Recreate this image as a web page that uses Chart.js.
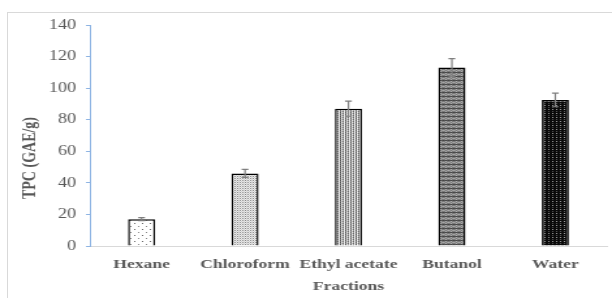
<!DOCTYPE html>
<html>
<head>
<meta charset="utf-8">
<script src="https://cdn.jsdelivr.net/npm/chart.js@4/dist/chart.umd.min.js"></script>
<style>
  html, body { margin: 0; padding: 0; background: #fff; overflow: hidden; width: 612px; height: 298px; }
  #frame { position: absolute; left: 7px; top: 12px; width: 700px; height: 400px; border: 1px solid #d9d9d9; }
  #wrap { position: absolute; left: 0; top: 0; width: 470px; height: 298px; transform: scaleX(1.3021); transform-origin: 0 0; }
</style>
</head>
<body>
<div id="frame"></div>
<div id="wrap"><canvas id="c"></canvas></div>
<script>
const categories = ["Hexane", "Chloroform", "Ethyl acetate", "Butanol", "Water"];
const tpcValues = [17, 46, 87, 113, 92.5];
const tpcErrors = [1, 2.5, 4.8, 5.7, 4.3];
const yTicks = [0, 20, 40, 60, 80, 100, 120, 140];
const yTitle = 'TPC (GAE/g)';
const xTitle = 'Fractions';

function makePattern(w, h, bg, pixels) {
  const c = document.createElement('canvas');
  c.width = w; c.height = h;
  const x = c.getContext('2d');
  x.fillStyle = bg; x.fillRect(0, 0, w, h);
  pixels.forEach(p => { x.fillStyle = p[2]; x.fillRect(p[0], p[1], 1, 1); });
  return x.createPattern(c, 'repeat');
}

const patterns = [
  makePattern(6, 6, '#ffffff', [[1,1,'#666'],[4,4,'#888']]),
  makePattern(2, 2, '#eeeeee', [[0,0,'#8a8a8a'],[1,1,'#d0d0d0']]),
  makePattern(4, 2, '#f0f0f0', [[1,0,'#555'],[1,1,'#777'],[3,0,'#999'],[3,1,'#666'],[2,1,'#ccc']]),
  makePattern(4, 4, '#7a7a7a', [[0,0,'#444'],[1,0,'#555'],[2,0,'#444'],[3,0,'#555'],[0,2,'#a8a8a8'],[2,1,'#b0b0b0'],[2,3,'#b0b0b0'],[1,2,'#999'],[3,2,'#999']]),
  makePattern(3, 4, '#0a0a0a', [[1,1,'#9a9a9a'],[1,3,'#555']])
];

const serif = "'Liberation Serif', 'Times New Roman', serif";
const grey = '#595959';

const errorBars = {
  id: 'errorBars',
  afterDatasetsDraw(chart) {
    const ctx = chart.ctx;
    const meta = chart.getDatasetMeta(0);
    const ys = chart.scales.y;
    ctx.save();
    ctx.strokeStyle = '#7f7f7f';
    ctx.lineWidth = 1.2;
    meta.data.forEach((bar, i) => {
      const x = bar.x;
      const yTop = ys.getPixelForValue(tpcValues[i] + tpcErrors[i]);
      const yBot = ys.getPixelForValue(tpcValues[i] - tpcErrors[i]);
      const cap = 2.6;
      ctx.beginPath();
      ctx.moveTo(x, yTop); ctx.lineTo(x, yBot);
      ctx.moveTo(x - cap, yTop); ctx.lineTo(x + cap, yTop);
      ctx.moveTo(x - cap, yBot); ctx.lineTo(x + cap, yBot);
      ctx.stroke();
    });
    ctx.restore();
  }
};

const yTitlePlugin = {
  id: 'yTitlePlugin',
  afterDraw(chart) {
    const ctx = chart.ctx;
    ctx.save();
    ctx.translate(23, 158);
    ctx.rotate(-Math.PI / 2);
    ctx.font = "bold 14px " + serif;
    ctx.fillStyle = grey;
    ctx.textAlign = 'center';
    ctx.textBaseline = 'middle';
    ctx.fillText(yTitle, 0, 0);
    ctx.restore();
  }
};

new Chart(document.getElementById('c'), {
  type: 'bar',
  data: {
    labels: categories,
    datasets: [{
      data: tpcValues,
      backgroundColor: patterns,
      borderColor: '#000',
      borderWidth: 1.5,
      borderSkipped: 'bottom',
      categoryPercentage: 1,
      barPercentage: 0.262
    }]
  },
  options: {
    responsive: true,
    maintainAspectRatio: false,
    animation: false,
    devicePixelRatio: 1,
    layout: { padding: { top: 25, left: 0, right: 3.8, bottom: 0 } },
    plugins: { legend: { display: false }, tooltip: { enabled: false } },
    scales: {
      x: {
        grid: { display: false, drawTicks: false },
        border: { display: true, color: '#d9d9d9', width: 1 },
        ticks: { color: grey, font: { family: serif, size: 13.5, weight: 'bold' }, padding: 10, maxRotation: 0, autoSkip: false },
        title: { display: true, text: xTitle, color: grey, font: { family: serif, size: 13.5, weight: 'bold' }, padding: { top: 0, bottom: 3 } },
        afterFit(s) { s.height = 52; }
      },
      y: {
        min: 0, max: 140,
        afterBuildTicks(s) { s.ticks = yTicks.map(v => ({ value: v })); },
        grid: { display: true, drawOnChartArea: false, drawTicks: true, tickLength: 3, color: '#8eb4e3' },
        border: { display: true, color: '#8eb4e3', width: 1 },
        ticks: { color: grey, font: { family: serif, size: 14 }, padding: 7.4 },
        title: { display: false },
        afterFit(s) { s.width = 69; }
      }
    }
  },
  plugins: [errorBars, yTitlePlugin]
});
</script>
</body>
</html>
